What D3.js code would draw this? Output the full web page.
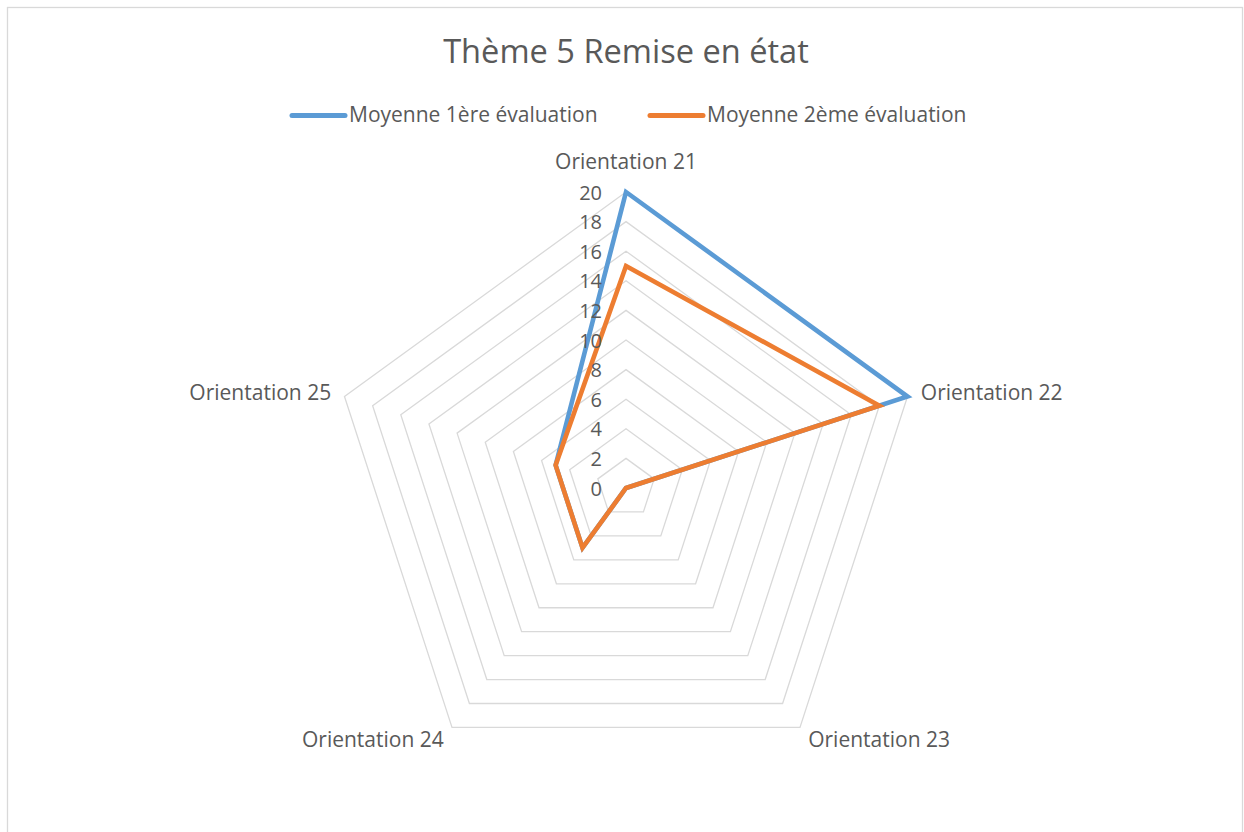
<!DOCTYPE html>
<html>
<head>
<meta charset="utf-8">
<script src="https://cdn.jsdelivr.net/npm/d3@7"></script>
<style>
  html, body { margin: 0; padding: 0; background: #fff; }
  svg { display: block; }
  text { font-family: "Open Sans", "Noto Sans", sans-serif; fill: #595959; }
</style>
</head>
<body>
<svg id="chart" width="1244" height="832"></svg>
<script>
const title = "Thème 5 Remise en état";
const categories = ["Orientation 21", "Orientation 22", "Orientation 23", "Orientation 24", "Orientation 25"];
const seriesNames = ["Moyenne 1ère évaluation", "Moyenne 2ème évaluation"];
const series1 = [20, 20, 0, 5, 5];
const series2 = [15, 18, 0, 5, 5];
const tickValues = [0, 2, 4, 6, 8, 10, 12, 14, 16, 18, 20];
const colors = ["#5B9BD5", "#ED7D31"];

const svg = d3.select("#chart");
const cx = 626, cy = 488, R = 296;

// chart border
svg.append("rect").attr("x", 7.5).attr("y", 7.5).attr("width", 1235).attr("height", 840)
  .attr("fill", "#fff").attr("stroke", "#D9D9D9").attr("stroke-width", 1.3);

// title
svg.append("text").attr("x", 626).attr("y", 63).attr("text-anchor", "middle")
  .style("font-size", "32.6px").text(title);

const r = d3.scaleLinear().domain([0, 20]).range([0, R]);
const angle = d3.scaleLinear().domain([0, categories.length]).range([0, 2 * Math.PI]);
const pt = (i, v) => [cx + r(v) * Math.sin(angle(i)), cy - r(v) * Math.cos(angle(i))];

// grid rings
const gridLine = d3.line().curve(d3.curveLinearClosed);
svg.append("g").selectAll("path").data(tickValues.filter(d => d > 0)).join("path")
  .attr("d", t => gridLine(categories.map((c, i) => pt(i, t))))
  .attr("fill", "none").attr("stroke", "#D9D9D9").attr("stroke-width", 1.3);

// series
const radarLine = d3.line().curve(d3.curveLinearClosed);
[series1, series2].forEach((s, k) => {
  svg.append("path").attr("d", radarLine(s.map((v, i) => pt(i, v))))
    .attr("fill", "none").attr("stroke", colors[k]).attr("stroke-width", 4.6)
    .attr("stroke-linejoin", "miter");
});

// tick labels
svg.append("g").selectAll("text").data(tickValues).join("text")
  .attr("x", cx - 24).attr("y", t => cy - r(t))
  .attr("text-anchor", "end").attr("dominant-baseline", "central")
  .style("font-size", "20px").text(t => t);

// category labels
svg.append("g").selectAll("text").data(categories).join("text")
  .each(function(c, i) {
    const a = angle(i), s = Math.sin(a), co = Math.cos(a);
    const d = R + 14;
    let x = cx + d * s, y = cy - d * co;
    let anchor = s > 0.1 ? "start" : (s < -0.1 ? "end" : "middle");
    if (anchor === "middle") y -= 17;
    d3.select(this).attr("x", x).attr("y", y).attr("text-anchor", anchor)
      .attr("dominant-baseline", "central").style("font-size", "21px").text(c);
  });

// legend
const legendItems = [{x: 292, name: seriesNames[0], color: colors[0]}, {x: 650, name: seriesNames[1], color: colors[1]}];
const lg = svg.append("g");
legendItems.forEach(it => {
  lg.append("line").attr("x1", it.x).attr("x2", it.x + 53).attr("y1", 115.5).attr("y2", 115.5)
    .attr("stroke", it.color).attr("stroke-width", 5).attr("stroke-linecap", "round");
  lg.append("text").attr("x", it.x + 57).attr("y", 122).style("font-size", "21px").text(it.name);
});
</script>
</body>
</html>
